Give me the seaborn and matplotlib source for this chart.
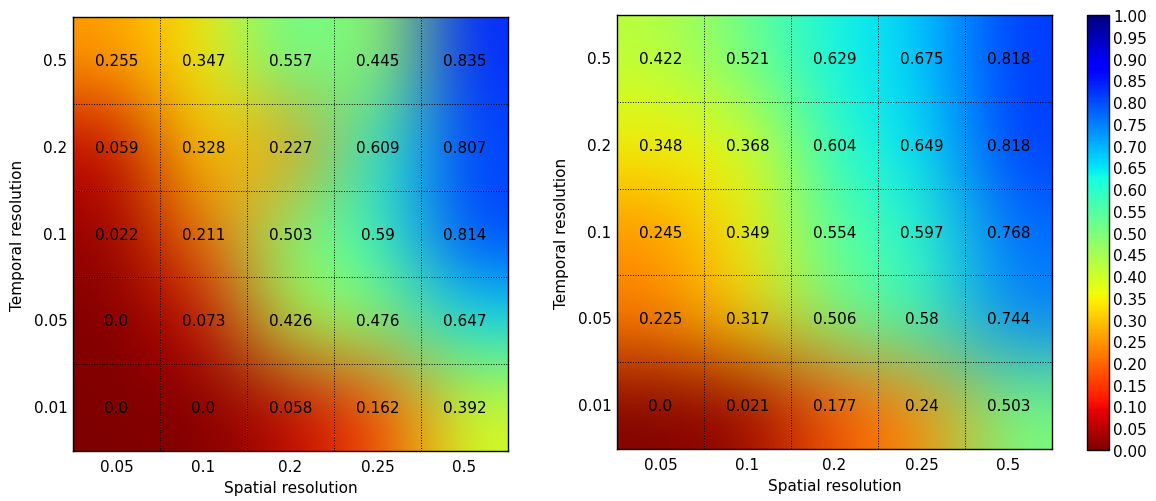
import numpy as np
import pandas as pd
import matplotlib
matplotlib.use("Agg")
import matplotlib.pyplot as plt
import seaborn as sns

spatial = ["0.05", "0.1", "0.2", "0.25", "0.5"]
temporal = ["0.5", "0.2", "0.1", "0.05", "0.01"]  # top to bottom

left_vals = [
    [0.255, 0.347, 0.557, 0.445, 0.835],
    [0.059, 0.328, 0.227, 0.609, 0.807],
    [0.022, 0.211, 0.503, 0.59, 0.814],
    [0.0, 0.073, 0.426, 0.476, 0.647],
    [0.0, 0.0, 0.058, 0.162, 0.392],
]
right_vals = [
    [0.422, 0.521, 0.629, 0.675, 0.818],
    [0.348, 0.368, 0.604, 0.649, 0.818],
    [0.245, 0.349, 0.554, 0.597, 0.768],
    [0.225, 0.317, 0.506, 0.58, 0.744],
    [0.0, 0.021, 0.177, 0.24, 0.503],
]
cbar_ticks = [round(0.05 * i, 2) for i in range(21)]

sns.set_style("white")
plt.rcParams["font.family"] = ["DejaVu Sans"]
plt.rcParams["text.color"] = "black"
plt.rcParams["axes.labelcolor"] = "black"
FS = 11

fig = plt.figure(figsize=(11.56, 5.02), dpi=100)
ax1 = fig.add_axes([0.0631, 0.0996, 0.3763, 0.8645])
ax2 = fig.add_axes([0.5337, 0.1036, 0.3763, 0.8645])
cax = fig.add_axes([0.9403, 0.1016, 0.0190, 0.8665])


def panel(ax, vals, with_cbar):
    df = pd.DataFrame(vals, index=temporal, columns=spatial)
    labels = np.array([[str(v) for v in row] for row in vals])
    kw = dict(annot=labels, fmt="", cmap="jet_r", vmin=0, vmax=1, ax=ax,
              annot_kws={"color": "black", "fontsize": FS})
    if with_cbar:
        sns.heatmap(df, cbar=True, cbar_ax=cax,
                    cbar_kws={"ticks": cbar_ticks, "format": "%.2f"}, **kw)
    else:
        sns.heatmap(df, cbar=False, **kw)
    ax.imshow(np.array(vals), cmap="jet_r", vmin=0, vmax=1,
              interpolation="bicubic", interpolation_stage="rgba",
              extent=(0, 5, 5, 0), aspect="auto", zorder=1.5)
    ax.set_xlim(0, 5)
    ax.set_ylim(5, 0)
    ax.set_axisbelow(False)
    ax.set_xticks([i + 0.5 for i in range(5)])
    ax.set_xticklabels(spatial, rotation=0, fontsize=FS)
    ax.set_yticks([i + 0.5 for i in range(5)])
    ax.set_yticklabels(temporal, rotation=0, fontsize=FS)
    ax.set_xticks([1, 2, 3, 4], minor=True)
    ax.set_yticks([1, 2, 3, 4], minor=True)
    ax.tick_params(which="both", length=0, colors="black")
    ax.tick_params(axis="x", pad=6)
    ax.tick_params(axis="y", pad=4)
    ax.grid(which="minor", linestyle=":", color="black", linewidth=0.7)
    ax.grid(which="major", visible=False)
    ax.set_xlabel("Spatial resolution", fontsize=FS, labelpad=4)
    ax.set_ylabel("Temporal resolution", fontsize=FS, labelpad=6)
    for s in ax.spines.values():
        s.set_visible(True)
        s.set_color("black")
        s.set_linewidth(1.0)
        s.set_zorder(4)


panel(ax1, left_vals, False)
panel(ax2, right_vals, True)

cb = ax2.collections[0].colorbar
cb.outline.set_visible(True)
cb.outline.set_linewidth(1.0)
cb.outline.set_edgecolor("black")
cax.yaxis.set_ticks_position("right")
cax.tick_params(direction="in", length=5, width=0.8, colors="black",
                labelsize=FS, pad=3)

fig.savefig("out.png", dpi=100)
